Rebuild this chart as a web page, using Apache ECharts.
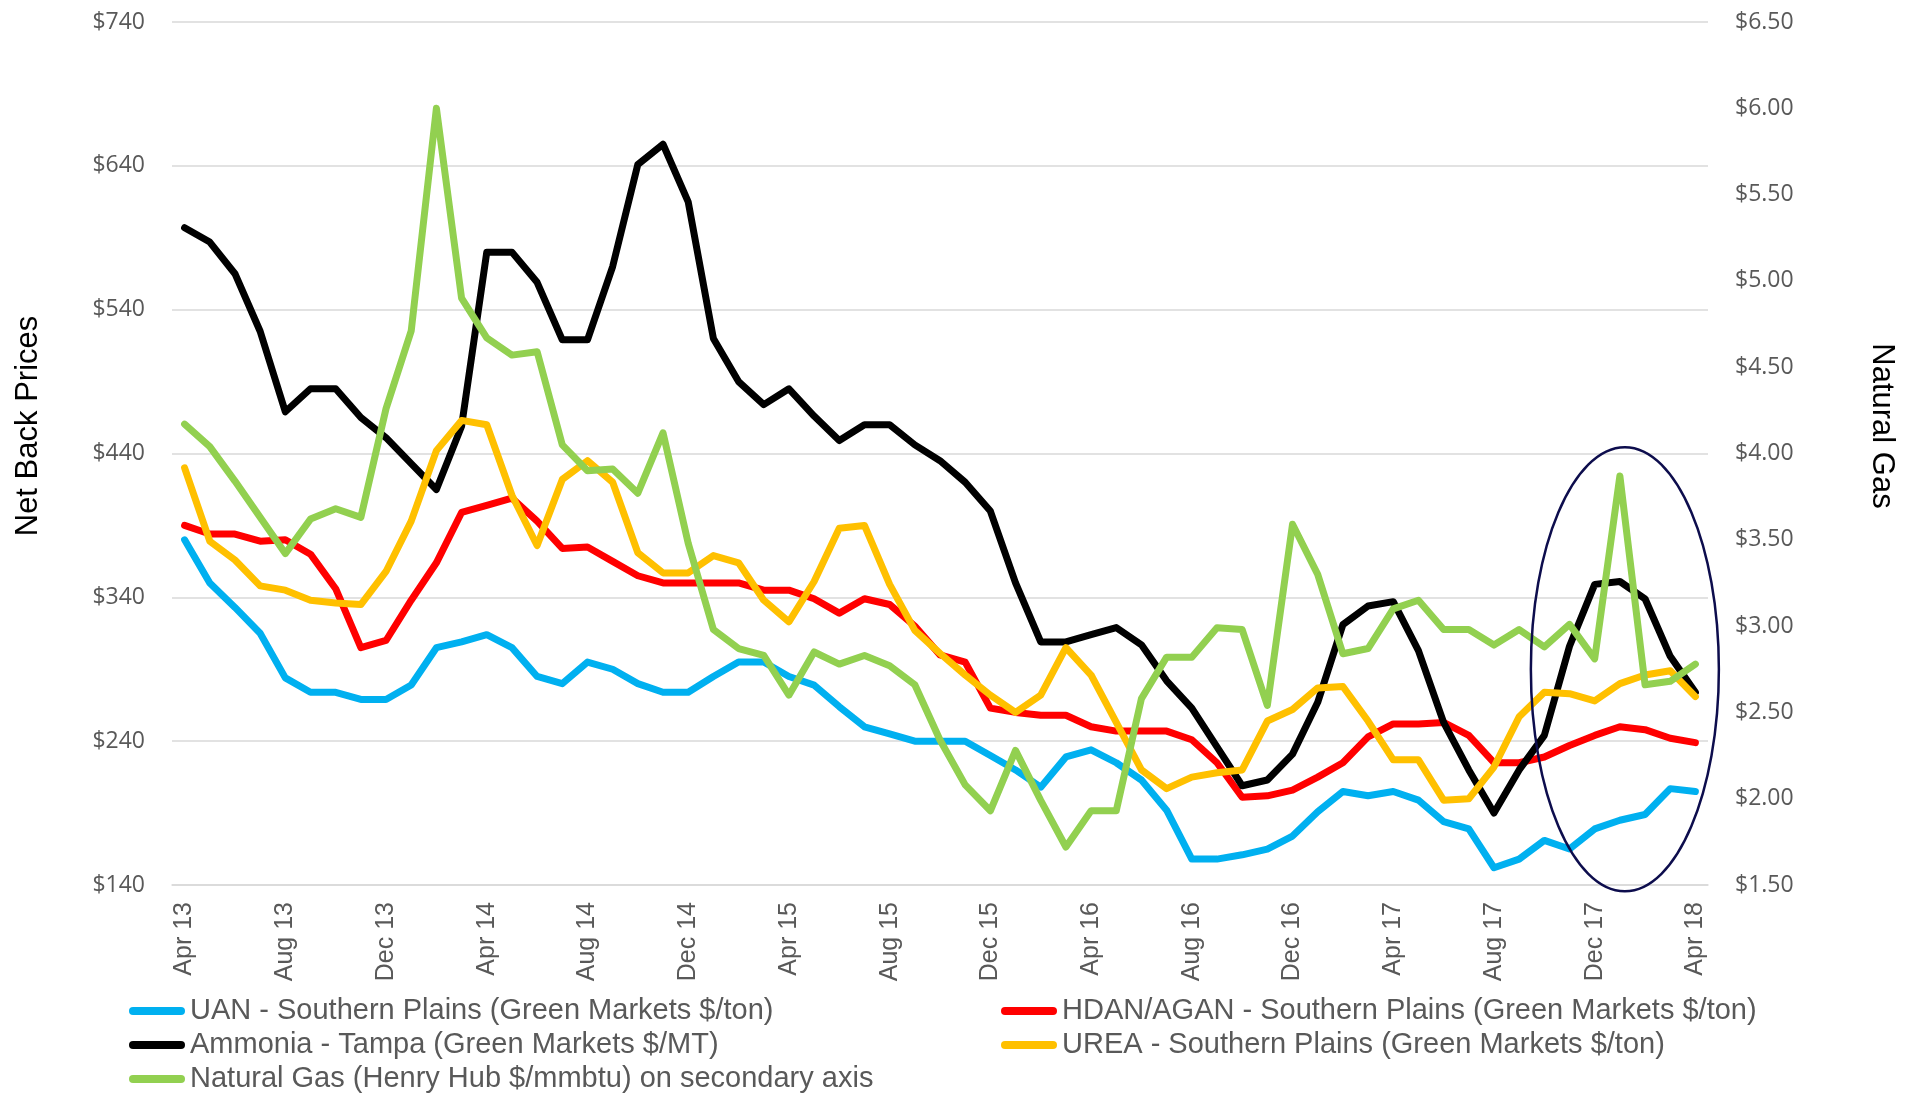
<!DOCTYPE html>
<html>
<head>
<meta charset="utf-8">
<script src="https://cdn.jsdelivr.net/npm/echarts@6/dist/echarts.min.js"></script>
<style>
  html, body { margin: 0; padding: 0; background: #ffffff; }
  #chart { width: 1915px; height: 1097px; }
</style>
</head>
<body>
<div id="chart"></div>
<script>
const categories = ['Apr 13','May 13','Jun 13','Jul 13','Aug 13','Sep 13','Oct 13','Nov 13','Dec 13',
  'Jan 14','Feb 14','Mar 14','Apr 14','May 14','Jun 14','Jul 14','Aug 14','Sep 14','Oct 14','Nov 14','Dec 14',
  'Jan 15','Feb 15','Mar 15','Apr 15','May 15','Jun 15','Jul 15','Aug 15','Sep 15','Oct 15','Nov 15','Dec 15',
  'Jan 16','Feb 16','Mar 16','Apr 16','May 16','Jun 16','Jul 16','Aug 16','Sep 16','Oct 16','Nov 16','Dec 16',
  'Jan 17','Feb 17','Mar 17','Apr 17','May 17','Jun 17','Jul 17','Aug 17','Sep 17','Oct 17','Nov 17','Dec 17',
  'Jan 18','Feb 18','Mar 18','Apr 18'];

const seriesNames = [
  'UAN - Southern Plains (Green Markets $/ton)',
  'HDAN/AGAN - Southern Plains (Green Markets $/ton)',
  'Ammonia - Tampa (Green Markets $/MT)',
  'UREA - Southern Plains (Green Markets $/ton)',
  'Natural Gas (Henry Hub $/mmbtu) on secondary axis'
];

const uan = [380,350,333,315,284,274,274,269,269,279,
  305,309,314,305,285,280,295,290,280,274,
  274,285,295,295,285,279,264,250,245,240,
  240,240,230,220,208,229,234,225,213,192,
  158,158,161,165,174,191,205,202,205,199,
  184,179,152,158,171,165,179,185,189,207,
  205];

const hdan = [390,384,384,379,380,370,346,305,310,338,
  364,399,404,409,393,374,375,365,355,350,
  350,350,350,345,345,339,329,339,335,320,
  300,295,263,260,258,258,250,247,247,247,
  241,225,201,202,206,215,225,243,252,252,
  253,244,225,225,229,237,244,250,248,242,
  239];

const ammonia = [597,587,565,525,469,485,485,465,451,433,
  415,459,580,580,559,519,519,570,641,655,
  615,520,490,474,485,466,449,460,460,446,
  435,420,400,350,309,309,314,319,307,282,
  263,236,209,213,231,267,321,334,337,303,
  253,220,190,220,244,306,349,351,339,299,
  274];

const urea = [430,379,366,348,345,338,336,335,358,393,
  442,463,460,411,376,422,435,420,371,357,
  357,369,364,338,323,351,388,390,349,317,
  301,286,272,260,272,305,286,253,220,207,
  215,218,220,254,262,277,278,254,227,227,
  199,200,222,257,274,273,268,280,286,289,
  271];

const gas = [4.17,4.04,3.84,3.63,3.42,3.62,3.68,3.63,4.26,4.71,
  6.00,4.90,4.67,4.57,4.59,4.05,3.90,3.91,3.77,4.12,
  3.48,2.98,2.87,2.83,2.60,2.85,2.78,2.83,2.77,2.66,
  2.34,2.08,1.93,2.28,1.99,1.72,1.93,1.93,2.58,2.82,
  2.82,2.99,2.98,2.54,3.59,3.30,2.84,2.87,3.10,3.15,
  2.98,2.98,2.89,2.98,2.88,3.01,2.81,3.87,2.66,2.68,
  2.78];

const colors = ['#00B0F0', '#FF0000', '#000000', '#FFC000', '#92D050'];
const leftAxisTicks = { min: 140, max: 740, interval: 100 };
const rightAxisTicks = { min: 1.5, max: 6.5, interval: 0.5 };

const chart = echarts.init(document.getElementById('chart'), null, { renderer: 'canvas' });

const pill = 'path://M4,0 L52,0 A4,4 0 0 1 52,8 L4,8 A4,4 0 0 1 4,0 Z';
const legendText = { fontSize: 29, color: '#595959', fontFamily: "'Liberation Sans', Arial, sans-serif", lineHeight: 30 };

// legend layout: [series index, left, top]
const legendSlots = [[0, 129, 996], [1, 1001, 996], [2, 129, 1030], [3, 1001, 1030], [4, 129, 1064]];

function lineSeries(name, data, idx, yAxisIndex) {
  return {
    name: name, type: 'line', data: data, yAxisIndex: yAxisIndex,
    symbol: 'none', smooth: false,
    lineStyle: { width: 7, color: colors[idx], cap: 'round', join: 'round' },
    itemStyle: { color: colors[idx] },
    z: 2 + idx
  };
}

const option = {
  animation: false,
  backgroundColor: '#ffffff',
  grid: { left: 172, right: 207, top: 22, bottom: 212, containLabel: false },
  legend: legendSlots.map(s => ({
    orient: 'horizontal', left: s[1], top: s[2], padding: 0,
    itemWidth: 56, itemHeight: 8, icon: pill, textStyle: legendText,
    data: [seriesNames[s[0]]]
  })),
  xAxis: {
    type: 'category', data: categories, boundaryGap: true,
    axisTick: { show: false },
    axisLine: { show: true, lineStyle: { color: '#d9d9d9', width: 1.5 } },
    axisLabel: {
      interval: 3, rotate: 90, margin: 17, fontSize: 25, color: '#595959',
      fontFamily: "'Liberation Sans', Arial, sans-serif"
    },
    splitLine: { show: false }
  },
  yAxis: [
    {
      type: 'value', min: leftAxisTicks.min, max: leftAxisTicks.max, interval: leftAxisTicks.interval,
      axisLine: { show: false }, axisTick: { show: false },
      axisLabel: { formatter: v => '$' + v, fontSize: 23, color: '#595959', margin: 27,
        fontFamily: "'Open Sans', 'DejaVu Sans', sans-serif" },
      splitLine: { show: true, lineStyle: { color: '#d9d9d9', width: 1.5 } }
    },
    {
      type: 'value', position: 'right', min: rightAxisTicks.min, max: rightAxisTicks.max, interval: rightAxisTicks.interval,
      axisLine: { show: false }, axisTick: { show: false },
      axisLabel: { formatter: v => '$' + v.toFixed(2), fontSize: 23, color: '#595959', margin: 27,
        fontFamily: "'Open Sans', 'DejaVu Sans', sans-serif" },
      splitLine: { show: false }
    }
  ],
  series: [
    lineSeries(seriesNames[0], uan, 0, 0),
    lineSeries(seriesNames[1], hdan, 1, 0),
    lineSeries(seriesNames[2], ammonia, 2, 0),
    lineSeries(seriesNames[3], urea, 3, 0),
    lineSeries(seriesNames[4], gas, 4, 1)
  ],
  graphic: [
    {
      type: 'text', id: 'leftTitle', x: 28, y: 426, rotation: Math.PI / 2,
      style: { text: 'Net Back Prices', fontSize: 31, fill: '#000000', align: 'center', verticalAlign: 'middle',
        fontFamily: "'Liberation Sans', Arial, sans-serif" }
    },
    {
      type: 'text', id: 'rightTitle', x: 1882, y: 426, rotation: -Math.PI / 2,
      style: { text: 'Natural Gas', fontSize: 31, fill: '#000000', align: 'center', verticalAlign: 'middle',
        fontFamily: "'Liberation Sans', Arial, sans-serif" }
    }
  ]
};

chart.setOption(option);

// Highlight ellipse around the late-2017 / early-2018 period
const c = chart.convertToPixel({ xAxisIndex: 0, yAxisIndex: 0 }, [57, 290]);
chart.setOption({
  graphic: [
    {
      type: 'ellipse', id: 'highlight', z: 100, silent: true,
      shape: { cx: c[0] + 5, cy: c[1], rx: 94, ry: 222 },
      style: { fill: 'none', stroke: '#0d0d4d', lineWidth: 2.5 }
    }
  ]
});
</script>
</body>
</html>
